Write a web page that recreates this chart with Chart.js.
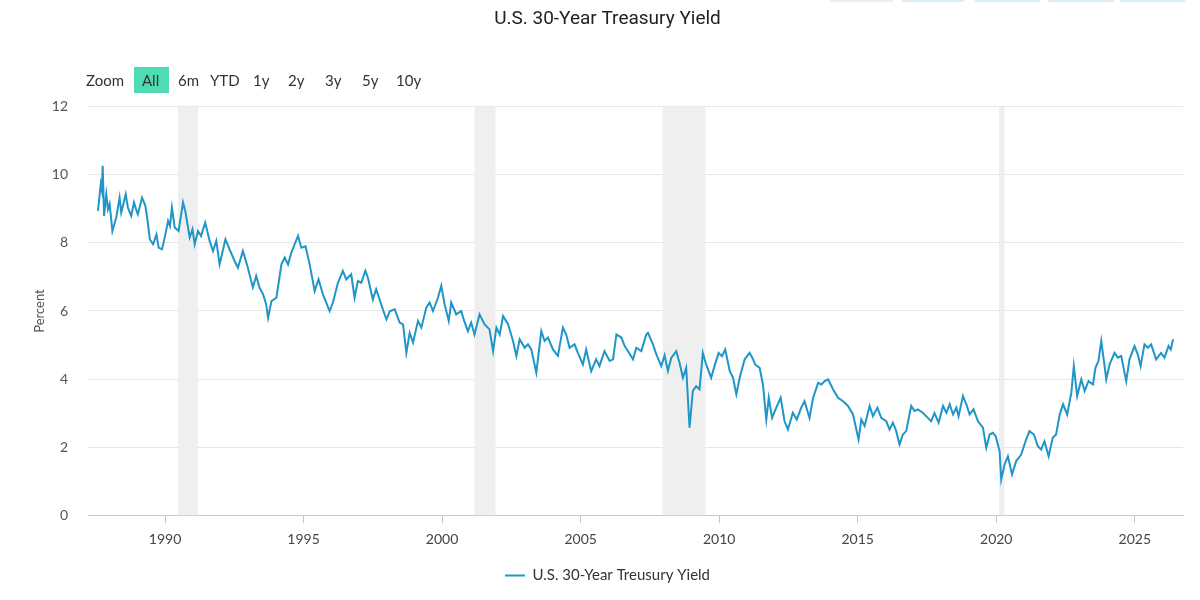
<!DOCTYPE html>
<html>
<head>
<meta charset="utf-8">
<script src="https://cdn.jsdelivr.net/npm/chart.js@4.4.1/dist/chart.umd.min.js"></script>
<style>
  html, body { margin: 0; padding: 0; background: #fff; }
  #wrap { position: relative; width: 1200px; height: 600px; }
  #zoom { position: absolute; left: 86px; top: 67px; height: 26px; font-family: Lato, "Open Sans", sans-serif; font-size: 15px; color: #333; }
  #zoom span { position: absolute; top: 0; line-height: 26px; white-space: nowrap; }
  #zoom .on { background: #4fdcb4; padding: 0 10px 0 8px; }
  .topbtn { position: absolute; top: 0; height: 2px; background: #d9ecf8; }
</style>
</head>
<body>
<div id="wrap">
  <canvas id="line-chart" width="1200" height="600"></canvas>
  <div class="topbtn" style="left:830px;width:63px;background:#eee"></div>
  <div class="topbtn" style="left:902px;width:62px"></div>
  <div class="topbtn" style="left:975px;width:65px"></div>
  <div class="topbtn" style="left:1048px;width:66px"></div>
  <div class="topbtn" style="left:1120px;width:65px"></div>
  <div id="zoom">
    <span style="left:0">Zoom</span>
    <span class="on" style="left:48px">All</span>
    <span style="left:92px">6m</span>
    <span style="left:124px">YTD</span>
    <span style="left:167px">1y</span>
    <span style="left:202px">2y</span>
    <span style="left:239px">3y</span>
    <span style="left:276px">5y</span>
    <span style="left:310px">10y</span>
  </div>
</div>
<script>
// U.S. 30-year treasury yield (decimal years)
var years = [
    1987.58, 1987.68, 1987.72, 1987.75, 1987.80, 1987.85, 1987.88, 1987.94, 1988.00, 1988.10,
    1988.24, 1988.36, 1988.42, 1988.50, 1988.58, 1988.66, 1988.78, 1988.88, 1988.95, 1989.02,
    1989.17, 1989.29, 1989.38, 1989.45, 1989.57, 1989.69, 1989.77, 1989.89, 1990.00, 1990.11,
    1990.18, 1990.25, 1990.35, 1990.49, 1990.65, 1990.73, 1990.80, 1990.89, 1990.99, 1991.07,
    1991.19, 1991.30, 1991.45, 1991.61, 1991.73, 1991.85, 1991.97, 1992.18, 1992.33, 1992.51,
    1992.63, 1992.81, 1992.98, 1993.17, 1993.29, 1993.41, 1993.54, 1993.65, 1993.72, 1993.84,
    1994.02, 1994.20, 1994.32, 1994.44, 1994.56, 1994.80, 1994.92, 1995.07, 1995.22, 1995.40,
    1995.54, 1995.70, 1995.94, 1996.06, 1996.24, 1996.42, 1996.54, 1996.72, 1996.84, 1996.96,
    1997.08, 1997.23, 1997.32, 1997.50, 1997.62, 1997.80, 1997.99, 1998.11, 1998.29, 1998.47,
    1998.59, 1998.71, 1998.83, 1998.95, 1999.13, 1999.25, 1999.43, 1999.55, 1999.67, 1999.85,
    1999.97, 2000.09, 2000.24, 2000.33, 2000.51, 2000.69, 2000.80, 2000.93, 2001.05, 2001.17,
    2001.35, 2001.53, 2001.71, 2001.84, 2001.96, 2002.08, 2002.20, 2002.38, 2002.56, 2002.68,
    2002.80, 2002.98, 2003.10, 2003.22, 2003.40, 2003.58, 2003.70, 2003.82, 2004.00, 2004.18,
    2004.36, 2004.48, 2004.60, 2004.78, 2004.90, 2005.08, 2005.20, 2005.38, 2005.56, 2005.68,
    2005.86, 2006.05, 2006.17, 2006.29, 2006.47, 2006.59, 2006.71, 2006.89, 2007.01, 2007.19,
    2007.37, 2007.43, 2007.61, 2007.73, 2007.91, 2008.03, 2008.15, 2008.27, 2008.45, 2008.57,
    2008.69, 2008.81, 2008.93, 2009.05, 2009.17, 2009.29, 2009.41, 2009.53, 2009.71, 2009.83,
    2009.98, 2010.10, 2010.22, 2010.38, 2010.50, 2010.62, 2010.74, 2010.92, 2011.10, 2011.20,
    2011.30, 2011.46, 2011.58, 2011.70, 2011.79, 2011.91, 2012.06, 2012.22, 2012.36, 2012.48,
    2012.66, 2012.80, 2012.96, 2013.08, 2013.26, 2013.39, 2013.57, 2013.69, 2013.81, 2013.93,
    2014.11, 2014.29, 2014.47, 2014.65, 2014.83, 2015.03, 2015.13, 2015.25, 2015.43, 2015.55,
    2015.71, 2015.85, 2016.03, 2016.15, 2016.27, 2016.39, 2016.51, 2016.63, 2016.75, 2016.93,
    2017.05, 2017.17, 2017.35, 2017.53, 2017.65, 2017.77, 2017.92, 2018.08, 2018.20, 2018.32,
    2018.44, 2018.56, 2018.64, 2018.80, 2018.92, 2019.04, 2019.18, 2019.34, 2019.52, 2019.64,
    2019.76, 2019.88, 2019.98, 2020.12, 2020.18, 2020.30, 2020.42, 2020.57, 2020.72, 2020.90,
    2021.08, 2021.20, 2021.36, 2021.50, 2021.62, 2021.74, 2021.89, 2022.04, 2022.16, 2022.29,
    2022.41, 2022.56, 2022.71, 2022.80, 2022.92, 2023.07, 2023.19, 2023.33, 2023.49, 2023.58,
    2023.69, 2023.79, 2023.91, 2023.97, 2024.09, 2024.27, 2024.39, 2024.51, 2024.69, 2024.81,
    2024.99, 2025.11, 2025.21, 2025.35, 2025.47, 2025.59, 2025.77, 2025.95, 2026.07, 2026.22,
    2026.30, 2026.38
];
var yields = [
    8.94, 9.73, 9.55, 10.27, 8.79, 9.20, 9.43, 8.99, 9.15, 8.35,
    8.75, 9.33, 8.89, 9.15, 9.43, 9.04, 8.79, 9.19, 9.00, 8.84,
    9.33, 9.09, 8.60, 8.11, 7.96, 8.25, 7.86, 7.81, 8.20, 8.65,
    8.50, 9.04, 8.45, 8.35, 9.19, 8.94, 8.60, 8.16, 8.40, 7.96,
    8.35, 8.20, 8.60, 8.06, 7.76, 8.06, 7.37, 8.11, 7.81, 7.47,
    7.27, 7.76, 7.30, 6.69, 7.03, 6.69, 6.49, 6.20, 5.80, 6.29,
    6.39, 7.37, 7.57, 7.37, 7.72, 8.21, 7.86, 7.90, 7.37, 6.59,
    6.93, 6.49, 6.00, 6.25, 6.83, 7.18, 6.93, 7.08, 6.39, 6.88,
    6.83, 7.18, 6.98, 6.34, 6.64, 6.20, 5.75, 5.99, 6.05, 5.66,
    5.61, 4.77, 5.36, 5.07, 5.71, 5.51, 6.10, 6.25, 6.00, 6.39,
    6.74, 6.20, 5.71, 6.25, 5.90, 6.00, 5.70, 5.41, 5.66, 5.31,
    5.90, 5.61, 5.46, 4.82, 5.51, 5.31, 5.85, 5.61, 5.12, 4.68,
    5.17, 4.92, 5.02, 4.87, 4.19, 5.41, 5.12, 5.22, 4.87, 4.68,
    5.51, 5.31, 4.92, 5.02, 4.77, 4.43, 4.87, 4.23, 4.58, 4.38,
    4.82, 4.53, 4.58, 5.31, 5.22, 4.97, 4.82, 4.58, 4.92, 4.82,
    5.31, 5.36, 5.02, 4.73, 4.38, 4.70, 4.24, 4.62, 4.82, 4.48,
    4.04, 4.33, 2.57, 3.65, 3.79, 3.70, 4.77, 4.43, 4.04, 4.38,
    4.77, 4.67, 4.87, 4.24, 4.04, 3.55, 4.04, 4.58, 4.77, 4.62,
    4.43, 4.33, 3.84, 2.81, 3.45, 2.86, 3.16, 3.45, 2.76, 2.52,
    3.01, 2.81, 3.16, 3.35, 2.86, 3.45, 3.89, 3.84, 3.94, 3.99,
    3.70, 3.45, 3.35, 3.21, 2.96, 2.23, 2.81, 2.62, 3.21, 2.91,
    3.16, 2.86, 2.76, 2.52, 2.72, 2.47, 2.08, 2.37, 2.47, 3.21,
    3.06, 3.11, 3.01, 2.86, 2.76, 3.00, 2.72, 3.21, 3.01, 3.26,
    2.96, 3.16, 2.91, 3.50, 3.26, 2.96, 3.11, 2.76, 2.57, 1.98,
    2.37, 2.42, 2.32, 1.88, 1.05, 1.49, 1.73, 1.20, 1.59, 1.78,
    2.23, 2.47, 2.37, 2.03, 1.93, 2.17, 1.73, 2.28, 2.37, 2.96,
    3.26, 2.96, 3.60, 4.38, 3.50, 3.99, 3.65, 3.94, 3.84, 4.33,
    4.53, 5.12, 4.38, 3.99, 4.43, 4.77, 4.63, 4.68, 3.94, 4.58,
    4.97, 4.72, 4.38, 5.02, 4.92, 5.02, 4.58, 4.77, 4.63, 4.97,
    4.87, 5.17
];
var yearTicks = [1990, 1995, 2000, 2005, 2010, 2015, 2020, 2025];
var recessionStarts = [1990.47, 2001.17, 2007.96, 2020.1];
var recessionEnds = [1991.19, 2001.93, 2009.5, 2020.3];

var lineColor = '#1f95c8';

// grey recession bands behind the line
var recessionBands = {
    id: 'recessionBands',
    beforeDatasetsDraw: function (chart) {
        var ctx = chart.ctx;
        var x = chart.scales.x;
        var area = chart.chartArea;
        ctx.save();
        ctx.fillStyle = '#efefef';
        recessionStarts.forEach(function (start, i) {
            var x0 = x.getPixelForValue(start);
            var x1 = x.getPixelForValue(recessionEnds[i]);
            ctx.fillRect(x0, area.top, x1 - x0, area.bottom - area.top);
        });
        ctx.restore();
    }
};

var ctx = document.getElementById('line-chart').getContext('2d');
var myChart = new Chart(ctx, {
    type: 'line',
    data: {
        datasets: [{
            label: 'U.S. 30-Year Treusury Yield',
            data: years.map(function (yr, i) { return { x: yr, y: yields[i] }; }),
            borderColor: lineColor,
            backgroundColor: lineColor,
            borderWidth: 2,
            pointRadius: 0,
            tension: 0
        }]
    },
    options: {
        responsive: false,
        animation: false,
        layout: { padding: { left: 32, right: 17, top: 0, bottom: 7 } },
        plugins: {
            title: {
                display: true,
                text: 'U.S. 30-Year Treasury Yield',
                color: '#222',
                font: { family: 'Roboto', size: 19, weight: '400' },
                padding: { top: 8, bottom: 76 }
            },
            legend: {
                position: 'bottom',
                labels: {
                    usePointStyle: true,
                    pointStyle: 'line',
                    pointStyleWidth: 20,
                    color: '#333',
                    padding: 12,
                    font: { family: 'Lato', size: 15 }
                }
            },
            tooltip: { enabled: false }
        },
        scales: {
            x: {
                type: 'linear',
                min: 1987.22,
                max: 2026.74,
                afterBuildTicks: function (scale) {
                    scale.ticks = yearTicks.map(function (v) { return { value: v }; });
                },
                ticks: {
                    color: '#444',
                    padding: 8,
                    maxRotation: 0,
                    font: { family: 'Lato', size: 14 },
                    callback: function (v) { return String(v); }
                },
                grid: { drawOnChartArea: false, drawTicks: true, tickLength: 8, color: '#c8c8c8' },
                border: { display: true, color: '#c8c8c8' }
            },
            y: {
                min: 0,
                max: 12,
                afterFit: function (scale) { scale.width = 56; },
                ticks: {
                    stepSize: 2,
                    color: '#555',
                    padding: 20,
                    font: { family: 'Lato', size: 14 }
                },
                title: {
                    display: true,
                    text: 'Percent',
                    color: '#555',
                    font: { family: 'Lato', size: 13 },
                    padding: 0
                },
                grid: { color: '#e6e6e6', drawTicks: false },
                border: { display: false }
            }
        }
    },
    plugins: [recessionBands]
});
</script>
</body>
</html>
